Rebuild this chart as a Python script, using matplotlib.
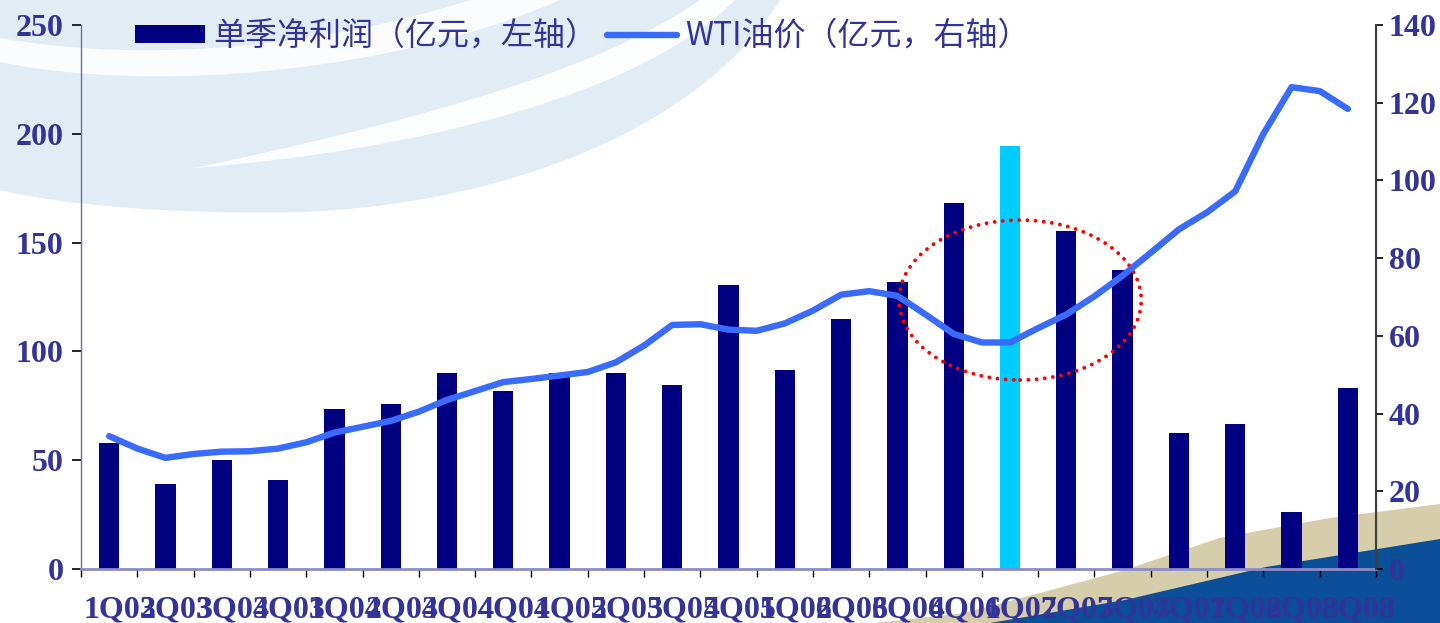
import numpy as np
import matplotlib.pyplot as plt
from matplotlib.patches import Ellipse, PathPatch, Polygon
from matplotlib.path import Path
from matplotlib.transforms import ScaledTranslation

plt.rcParams['font.family'] = ['Noto Sans CJK SC', 'DejaVu Sans']

# quarterly data
quarters = ['1Q03', '2Q03', '3Q03', '4Q03', '1Q04', '2Q04', '3Q04', '4Q04',
            '1Q05', '2Q05', '3Q05', '4Q05', '1Q06', '2Q06', '3Q06', '4Q06',
            '1Q07', '2Q07', '3Q07', '4Q07', '1Q08', '2Q08', '3Q08']
profit = [58, 39, 50, 41, 73.5, 76, 90, 82, 90, 90, 84.5, 130.5,
          91.5, 115, 132, 168, 194.5, 155.5, 137.5, 62.5, 66.5, 26, 83]
highlight = '1Q07'

# WTI price sampled every half quarter
wti = [34.2, 31.0, 28.6, 29.6, 30.2, 30.3, 31.0, 32.6, 35.1, 36.6, 38.1,
       40.5, 43.5, 45.8, 48.1, 48.9, 49.8, 50.7, 53.2, 57.5, 62.8, 63.0,
       61.6, 61.3, 63.2, 66.5, 70.6, 71.5, 70.3, 65.5, 60.5, 58.3, 58.3,
       62.0, 65.5, 70.2, 75.5, 81.4, 87.4, 91.8, 97.2, 112.0, 124.0, 123.0,
       118.4]

navy = '#000080'
cyan = '#00CCFF'
line_blue = '#3A6BFF'
txt = '#333399'

fig = plt.figure(figsize=(14.4, 6.23), dpi=100)

# slide background, drawn in pixel units
bg = fig.add_axes([0, 0, 1, 1], zorder=-10)
bg.set_xlim(0, 1440)
bg.set_ylim(623, 0)
bg.axis('off')
sky = '#E2ECF5'
C = Path.CURVE4
swoosh = Path([(0, 0), (780, 0), (700, 130), (500, 205), (300, 212),
               (180, 215), (60, 205), (0, 190), (0, 0)],
              [Path.MOVETO, Path.LINETO, C, C, C, C, C, C, Path.CLOSEPOLY])
bg.add_patch(PathPatch(swoosh, fc=sky, ec='none'))
arc1 = Path([(195, 168), (420, 120), (600, 70), (700, 0), (735, 0),
             (640, 95), (420, 150), (195, 168), (195, 168)],
            [Path.MOVETO, C, C, C, Path.LINETO, C, C, C, Path.CLOSEPOLY])
bg.add_patch(PathPatch(arc1, fc='white', ec='none', alpha=0.9))
arc2 = Path([(0, 38), (150, 65), (330, 45), (470, 0), (560, 0),
             (400, 70), (160, 95), (0, 62), (0, 38)],
            [Path.MOVETO, C, C, C, Path.LINETO, C, C, C, Path.CLOSEPOLY])
bg.add_patch(PathPatch(arc2, fc='white', ec='none', alpha=0.85))
bg.add_patch(Polygon([(875, 623), (964, 613), (1040, 593), (1125, 570),
                      (1219, 538), (1330, 518), (1440, 504), (1440, 623)],
                     fc='#D6CDAB', ec='none'))
bg.add_patch(Polygon([(990, 623), (1125, 600), (1266, 567), (1440, 539),
                      (1440, 623)], fc='#0B4F98', ec='none'))

ax = fig.add_axes([81 / 1440, 1 - 569 / 623, 1295 / 1440, 544 / 623])
ax.set_facecolor('none')
x = np.arange(len(quarters))
colors = [cyan if q == highlight else navy for q in quarters]
bars = ax.bar(x, profit, width=0.36, color=colors, zorder=2)
ax.set_xlim(-0.5, len(quarters) - 0.5)
ax.set_ylim(0, 250)
ax.set_yticks(range(0, 251, 50))

# dotted ring round the 2007 quarters
ax.add_patch(Ellipse((16.18, 123.6), 4.3, 73.5, fill=False, ec='red', lw=2.8,
                     ls=(0, (0.01, 2.1)), capstyle='round', zorder=3))

ax2 = ax.twinx()
wti_x = np.arange(len(wti)) * 0.5
line, = ax2.plot(wti_x, wti, color=line_blue, lw=4.6,
                 solid_joinstyle='round', solid_capstyle='round')
ax2.set_ylim(0, 140)
ax2.set_yticks(range(0, 141, 20))

tick_font = dict(family='Liberation Serif', weight='bold', size=23)
for a in (ax, ax2):
    a.spines['top'].set_visible(False)
    for lab in a.get_yticklabels():
        lab.set(**tick_font, color=txt)
ax.tick_params(axis='y', length=6.5, width=1.2, pad=6, color='black')
ax2.tick_params(axis='y', length=5, width=1.2, pad=4, color='black')
ax.spines['left'].set_color('#6A6AB0')
ax.spines['left'].set_linewidth(1)
ax.spines['bottom'].set_color('#8C8CC8')
ax.spines['bottom'].set_linewidth(2)
ax2.spines['right'].set_color('#404040')
ax2.spines['right'].set_linewidth(1.5)
ax2.spines['left'].set_visible(False)
ax2.spines['bottom'].set_visible(False)

# ticks between quarters, labels under each quarter
ax.set_xticks(np.arange(len(quarters) + 1) - 0.5)
ax.set_xticklabels([])
ax.tick_params(axis='x', which='major', length=6, width=1, color='black')
ax.set_xticks(x, minor=True)
ax.set_xticklabels(quarters, minor=True, **tick_font, color=txt)
ax.tick_params(axis='x', which='minor', length=0, pad=19)
shift = ScaledTranslation(0.11, 0, fig.dpi_scale_trans)
for lab in ax.get_xticklabels(minor=True):
    lab.set_transform(lab.get_transform() + shift)

fig.legend([bars, line], ['单季净利润（亿元，左轴）', 'WTI油价（亿元，右轴）'],
           loc='upper left', bbox_to_anchor=(135 / 1440, 1 - 20 / 623),
           ncol=2, frameon=False, fontsize=23, labelcolor=txt,
           handlelength=2.2, handleheight=0.5, handletextpad=0.25,
           columnspacing=0.3, borderpad=0, borderaxespad=0)

fig.savefig('out.png', dpi=100)
